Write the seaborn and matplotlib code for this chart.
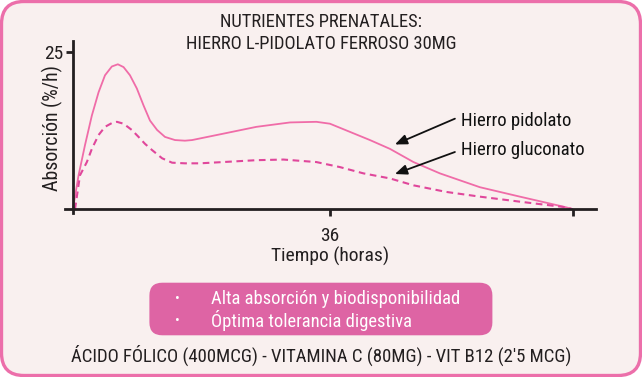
import matplotlib
matplotlib.use("Agg")
import matplotlib.pyplot as plt
import seaborn as sns
import pandas as pd
from matplotlib.patches import FancyBboxPatch
from matplotlib import font_manager

# ---- data ----
t_pidolato = [0, 0.8, 1.7, 2.66, 3.6, 4.5, 5.46, 6.3, 7.1, 8.0, 8.96, 9.9, 10.8, 11.8,
              12.9, 14.3, 15.7, 16.7, 21.0, 25.7, 30.4, 34.1, 36.0, 38.8, 41.6,
              44.4, 47.7, 51.4, 57.0, 62.6, 69.1, 70]
v_pidolato = [0, 5.4, 10.2, 14.9, 18.6, 21.3, 22.7, 23.05, 22.6, 21.3, 19.2, 16.5, 14.1, 12.6,
              11.5, 11.0, 10.9, 11.0, 12.0, 13.1, 13.8, 13.9, 13.6, 12.3, 11.0,
              9.6, 7.5, 5.7, 3.5, 2.0, 0.3, 0]
t_gluconato = [0.3, 1.0, 1.96, 2.66, 3.6, 4.5, 5.46, 6.16, 7.1, 8.26, 9.2, 10.1, 11.1, 12.5,
               13.9, 15.7, 17.8, 21.0, 25.7, 29.5, 34.1, 37.4, 40.7, 44.4, 47.7, 52.3,
               57.0, 62.6, 69.1, 70]
v_gluconato = [0, 5.4, 7.5, 9.6, 11.8, 13.1, 13.7, 13.9, 13.6, 12.6, 11.5, 10.4, 9.4, 8.1,
               7.4, 7.3, 7.3, 7.5, 7.8, 7.9, 7.5, 6.7, 5.7, 4.9, 3.8, 2.75,
               2.0, 1.2, 0.3, 0]
series_names = ["Hierro pidolato", "Hierro gluconato"]
x_ticks = [36, 70]
x_tick_labels = ["36", ""]
y_ticks = [25]
y_tick_labels = ["25"]
title_lines = ["NUTRIENTES PRENATALES:", "HIERRO L-PIDOLATO FERROSO 30MG"]
bullets = ["Alta absorción y biodisponibilidad", "Óptima tolerancia digestiva"]
footer = "ÁCIDO FÓLICO (400MCG) - VITAMINA C (80MG) - VIT B12 (2'5 MCG)"

df = pd.concat([
    pd.DataFrame({"t": t_pidolato, "v": v_pidolato, "serie": series_names[0]}),
    pd.DataFrame({"t": t_gluconato, "v": v_gluconato, "serie": series_names[1]}),
])

sns.set_theme(style="ticks")
avail = {f.name for f in font_manager.fontManager.ttflist}
fam = [f for f in ["Roboto Condensed", "Liberation Sans Narrow", "Roboto"] if f in avail] + ["DejaVu Sans"]
plt.rcParams["font.family"] = fam

BG = "#F9F0EF"
DARK = "#231F20"
W, H = 642, 377
fig = plt.figure(figsize=(W / 100, H / 100), dpi=100, facecolor="white")

def fx(px):
    return px / W

def fy(py):
    return 1 - py / H

# outer rounded border
fig.patches.append(FancyBboxPatch((fx(1.5), fy(375.5)), fx(639), 374 / H,
                                  boxstyle="round,pad=0,rounding_size=0.035",
                                  transform=fig.transFigure, facecolor=BG,
                                  edgecolor="#EC6FAA", linewidth=2.4,
                                  mutation_aspect=W / H, zorder=-5))

ax = fig.add_axes([fx(65), fy(213), fx(595.6) - fx(65), (213 - 40.7) / H])
ax.set_facecolor("none")
ax.set_zorder(2)

sns.lineplot(data=df, x="t", y="v", hue="serie", style="serie",
             palette={series_names[0]: "#F06CA8", series_names[1]: "#E0479B"},
             dashes={series_names[0]: "", series_names[1]: (3.2, 2.2)},
             ax=ax, legend=False, sort=False)
for ln in ax.lines:
    ln.set_solid_joinstyle("round")
    ln.set_dash_joinstyle("round")
ax.lines[0].set_linewidth(1.3)
ax.lines[1].set_linewidth(1.5)

ax.set_xlim(-1.1, 73.2)
ax.set_ylim(-0.6, 26.8)
for s in ["top", "right"]:
    ax.spines[s].set_visible(False)
ax.spines["left"].set_position(("data", 0))
ax.spines["bottom"].set_position(("data", 0))
for s in ["left", "bottom"]:
    ax.spines[s].set_linewidth(2.0)
    ax.spines[s].set_color(DARK)
ax.set_xticks(x_ticks, x_tick_labels)
ax.set_yticks(y_ticks, y_tick_labels)
ax.tick_params(axis="both", direction="out", length=5, width=2, color=DARK,
               labelsize=14, labelcolor=DARK)
ax.tick_params(axis="x", pad=8)
ax.tick_params(axis="y", pad=2)
ax.set_xlabel("")
ax.set_ylabel("")

# arrows + labels
for (tx, ty), (hx, hy) in [((53.5, 14.4), (45.1, 10.3)), ((53.5, 9.1), (45.1, 5.6))]:
    ax.annotate("", xy=(hx, hy), xytext=(tx, ty),
                arrowprops=dict(arrowstyle="-|>,head_length=0.6,head_width=0.25",
                                color="#111111", lw=1.3, shrinkA=0, shrinkB=0))
ax.text(54.3, 14.0, series_names[0], fontsize=13.5, color="#111111", va="center", ha="left")
ax.text(54.3, 9.4, series_names[1], fontsize=13.5, color="#111111", va="center", ha="left")

# axis labels as figure text
fig.text(fx(52), fy(127.5), "Absorción (%/h)", rotation=90, ha="center", va="center",
         fontsize=14.3, color=DARK)
fig.text(fx(330), fy(256), "Tiempo (horas)", ha="center", va="center",
         fontsize=14, color=DARK)

# title
fig.text(fx(321), fy(21.7), title_lines[0], ha="center", va="center", fontsize=13.3, color=DARK)
fig.text(fx(321), fy(44.3), title_lines[1], ha="center", va="center", fontsize=13.3, color=DARK)

# pink box with bullets
fig.patches.append(FancyBboxPatch((fx(149.4), fy(335.3)), fx(492.4) - fx(149.4), (335.3 - 282.7) / H,
                                  boxstyle="round,pad=0,rounding_size=0.02",
                                  transform=fig.transFigure, facecolor="#DE64A4",
                                  edgecolor="none", mutation_aspect=W / H, zorder=1))
for i, b in enumerate(bullets):
    yy = [299, 320.7][i]
    fig.text(fx(177), fy(yy), "•", ha="center", va="center", fontsize=10, color="white")
    fig.text(fx(211), fy(yy), b, ha="left", va="center", fontsize=13.3, color="white")

fig.text(fx(321), fy(355), footer, ha="center", va="center", fontsize=13.5, color=DARK)

fig.savefig("out.png", dpi=100, facecolor="white")
